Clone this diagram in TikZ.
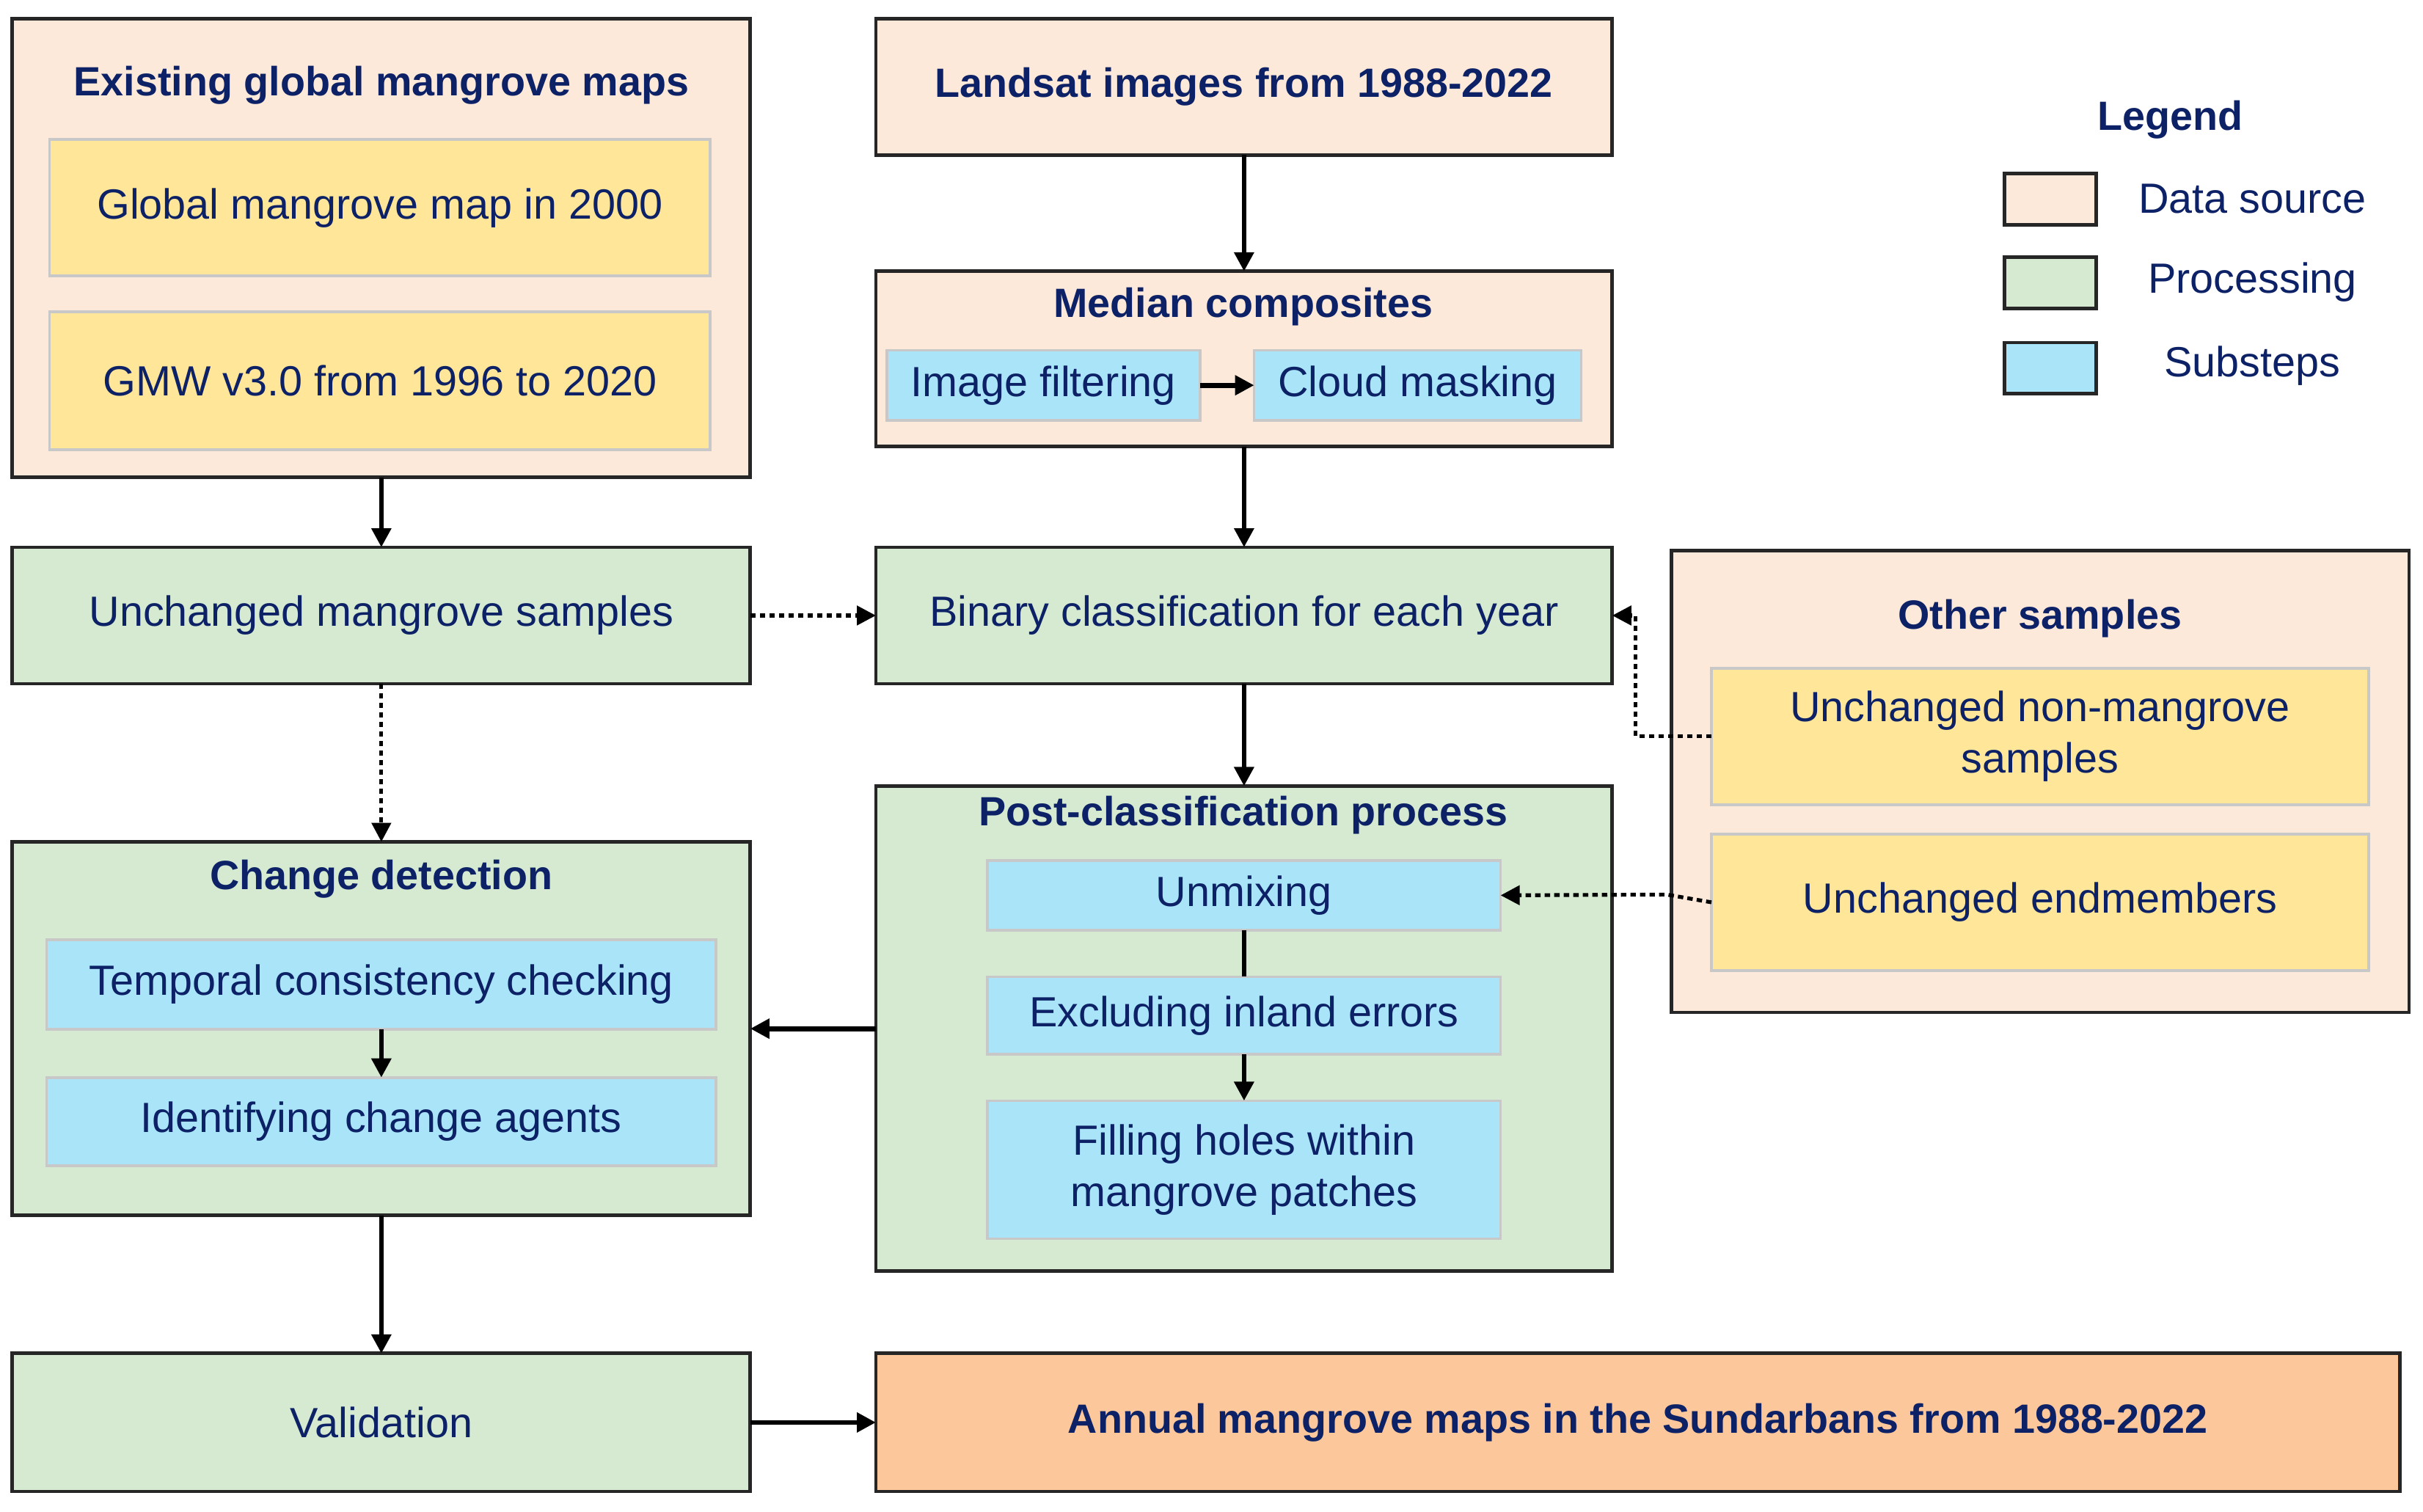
\documentclass[tikz,border=0pt]{standalone}
\usepackage{fontspec}
\setmainfont{Liberation Sans}
\usetikzlibrary{arrows.meta}
\definecolor{src}{HTML}{FDE9D9}
\definecolor{yel}{HTML}{FFE699}
\definecolor{grn}{HTML}{D5EAD1}
\definecolor{blu}{HTML}{A9E4F8}
\definecolor{fin}{HTML}{FCC89B}
\definecolor{navy}{HTML}{0D2266}
\definecolor{lb}{HTML}{C8C8C8}
\newcommand{\bx}[7]{\node[#2, minimum width={(#5-#3)*0.02cm}, minimum height={(#6-#4)*0.02cm}] (#1) at ({(#3+#5)/2},{(#4+#6)/2}) {#7};}
\begin{document}
\begin{tikzpicture}[x=0.02cm,y=-0.02cm,
  every node/.style={inner sep=0pt,outer sep=0pt,text=navy,font=\fontsize{15.5}{19}\selectfont,align=center},
  outer/.style={draw=black!85,line width=1.3pt},
  sbox/.style={outer,fill=src},
  gbox/.style={outer,fill=grn},
  fbox/.style={outer,fill=fin},
  ybox/.style={draw=lb,line width=1pt,fill=yel},
  bbox/.style={draw=lb,line width=1pt,fill=blu},
  ttl/.style={font=\fontsize{15}{18}\selectfont\bfseries},
  arr/.style={line width=1.8pt,-{Triangle[length=7pt,width=7pt]}},
  dot/.style={arr,dash pattern=on 2pt off 1.5pt,line width=1.4pt},
  ln/.style={line width=1.8pt}]
\useasboundingbox (0,0) rectangle (1563,975);
% data source boxes
\bx{exist}{sbox}{8}{12}{484}{308}{}
\node[ttl] (existt) at (246,55) {Existing global mangrove maps};
\bx{glob}{ybox}{32}{90}{458}{178}{Global mangrove map in 2000}
\bx{gmw}{ybox}{32}{201}{458}{290}{GMW v3.0 from 1996 to 2020}
\bx{land}{sbox}{565}{12}{1040}{100}{\fontsize{15}{18}\selectfont\bfseries Landsat images from 1988-2022}
\bx{med}{sbox}{565}{175}{1040}{288}{}
\node[ttl] (medt) at (802,198) {Median composites};
\bx{filt}{bbox}{572}{226}{774}{271}{Image filtering}
\bx{cloud}{bbox}{809}{226}{1020}{271}{Cloud masking}
% legend
\node[ttl] (legt) at (1400,77) {Legend};
\bx{l1}{sbox}{1293}{112}{1352}{145}{}
\bx{l2}{gbox}{1293}{166}{1352}{199}{}
\bx{l3}{bbox,draw=black!85,line width=1.3pt}{1293}{221}{1352}{254}{}
\node (l1t) at (1453,128) {Data source};
\node (l2t) at (1453,182) {Processing};
\node (l3t) at (1453,236) {Substeps};
% processing
\bx{ums}{gbox}{8}{353}{484}{441}{Unchanged mangrove samples}
\bx{bin}{gbox}{565}{353}{1040}{441}{Binary classification for each year}
\bx{other}{sbox}{1078}{355}{1554}{653}{}
\node[ttl] (othert) at (1316,399) {Other samples};
\bx{nonm}{ybox}{1104}{431}{1528}{519}{Unchanged non-mangrove\\samples}
\bx{endm}{ybox}{1104}{538}{1528}{626}{Unchanged endmembers}
\bx{chg}{gbox}{8}{543}{484}{784}{}
\node[ttl] (chgt) at (246,567) {Change detection};
\bx{temp}{bbox}{30}{606}{462}{664}{Temporal consistency checking}
\bx{ident}{bbox}{30}{695}{462}{752}{Identifying change agents}
\bx{post}{gbox}{565}{507}{1040}{820}{}
\node[ttl] (postt) at (802,526) {Post-classification process};
\bx{unmix}{bbox}{637}{555}{968}{600}{Unmixing}
\bx{excl}{bbox}{637}{630}{968}{680}{Excluding inland errors}
\bx{fill}{bbox}{637}{710}{968}{799}{Filling holes within\\mangrove patches}
\bx{val}{gbox}{8}{873}{484}{962}{Validation}
\bx{ann}{fbox}{565}{873}{1548}{962}{\fontsize{15}{18}\selectfont\bfseries Annual mangrove maps in the Sundarbans from 1988-2022}
% connectors
\draw[arr] (exist) -- (ums);
\draw[arr] (land) -- (med);
\draw[arr] (med) -- (bin);
\draw[arr] (bin) -- (post.north);
\draw[arr] (filt) -- (cloud);
\draw[arr] (temp) -- (ident);
\draw[ln] (unmix) -- (excl);
\draw[arr] (excl) -- (fill);
\draw[arr] (post.west) -- (chg.east);
\draw[arr] (chg) -- (val);
\draw[arr] (val) -- (ann);
\draw[dot] (ums) -- (bin);
\draw[dot] (ums) -- (chg);
\draw[dot] (nonm.west) -- (1055,475) -- (1055,397) -- (bin.east);
\draw[dot] (endm.west) -- (1075,577) -- (unmix.east);
\end{tikzpicture}
\end{document}
